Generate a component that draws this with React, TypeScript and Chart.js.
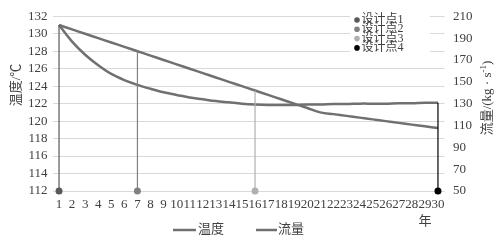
import { useEffect, useRef } from 'react';
import { Chart, registerables } from 'chart.js';

Chart.register(...registerables);

const years = ['1','2','3','4','5','6','7','8','9','10','11','12','13','14','15','16','17','18','19','20','21','22','23','24','25','26','27','28','29','30'];

// 温度 (°C), left axis
const temperature = [131, 130.5, 130, 129.5, 129, 128.5, 128, 127.5, 127, 126.5, 126, 125.5, 125, 124.5, 124, 123.5, 123, 122.5, 122, 121.5, 121, 120.8, 120.6, 120.4, 120.2, 120.0, 119.8, 119.6, 119.4, 119.2];

// 流量 (kg/s), right axis
const flow = [202, 186.8, 174.8, 165.2, 157.2, 151.6, 147.2, 143.6, 140.4, 138, 135.6, 134, 132.4, 131.2, 130, 129.2, 128.8, 128.8, 128.8, 129.2, 129.2, 129.6, 129.6, 130, 130, 130, 130.4, 130.4, 130.8, 130.8];

const designLabels = ['设计点1', '设计点2', '设计点3', '设计点4'];
const designYears = ['1', '7', '16', '30'];
const designColors = ['#595959', '#808080', '#b0b0b0', '#000000'];

const leftTicks = { min: 112, max: 132, step: 2 };
const rightTicks = { min: 50, max: 210, step: 20 };

const seriesNames = ['温度', '流量'];
const lineColor = '#707070';
const FONT = '"Liberation Serif", "Times New Roman", "Noto Sans CJK SC", serif';
const textColor = '#404040';

function flowToLeft(v: number) {
  return leftTicks.min + ((v - rightTicks.min) / (rightTicks.max - rightTicks.min)) * (leftTicks.max - leftTicks.min);
}

const customText = {
  id: 'customText',
  afterDraw(chart: any) {
    const ctx = chart.ctx as CanvasRenderingContext2D;
    // left title
    ctx.save();
    ctx.fillStyle = textColor;
    ctx.font = '13px ' + FONT;
    ctx.translate(17, 85);
    ctx.rotate(-Math.PI / 2);
    ctx.textAlign = 'center';
    ctx.textBaseline = 'middle';
    ctx.fillText('温度/℃', 0, 0);
    ctx.restore();

    // right title
    ctx.save();
    ctx.fillStyle = textColor;
    ctx.translate(488, 98);
    ctx.rotate(-Math.PI / 2);
    ctx.textBaseline = 'middle';
    ctx.textAlign = 'left';
    const main = '流量/(kg · s';
    const sup = '-1';
    const end = ')';
    ctx.font = '13px ' + FONT;
    const w1 = ctx.measureText(main).width;
    const w3 = ctx.measureText(end).width;
    ctx.font = '9px ' + FONT;
    const w2 = ctx.measureText(sup).width;
    let x = -(w1 + w2 + w3) / 2;
    ctx.font = '13px ' + FONT;
    ctx.fillText(main, x, 0);
    x += w1;
    ctx.font = '9px ' + FONT;
    ctx.fillText(sup, x, -4);
    x += w2;
    ctx.font = '13px ' + FONT;
    ctx.fillText(end, x, 0);
    ctx.restore();

    // design-point legend
    ctx.save();
    ctx.fillStyle = '#ffffff';
    ctx.fillRect(350, 13, 80, 47);
    ctx.font = '12px ' + FONT;
    ctx.textBaseline = 'middle';
    ctx.textAlign = 'left';
    designLabels.forEach((lab, i) => {
      const y = 20 + i * 9.3;
      ctx.fillStyle = designColors[i];
      ctx.beginPath();
      ctx.arc(357, y, 2.8, 0, Math.PI * 2);
      ctx.fill();
      ctx.fillStyle = textColor;
      ctx.fillText(lab, 361.5, y);
    });
    ctx.restore();

    // bottom legend
    ctx.save();
    ctx.font = '13px ' + FONT;
    ctx.textBaseline = 'middle';
    ctx.textAlign = 'left';
    const items = [
      { x1: 173, x2: 196, tx: 198 },
      { x1: 256, x2: 277, tx: 278 },
    ];
    items.forEach((it, i) => {
      ctx.strokeStyle = lineColor;
      ctx.lineWidth = 2.5;
      ctx.beginPath();
      ctx.moveTo(it.x1, 230);
      ctx.lineTo(it.x2, 230);
      ctx.stroke();
      ctx.fillStyle = textColor;
      ctx.fillText(seriesNames[i], it.tx, 230);
    });
    ctx.restore();

    // x axis title
    ctx.save();
    ctx.font = '13px ' + FONT;
    ctx.fillStyle = textColor;
    ctx.textAlign = 'center';
    ctx.textBaseline = 'middle';
    ctx.fillText('年', 425, 222);
    ctx.restore();
  },
};

export default function App() {
  const ref = useRef<HTMLCanvasElement | null>(null);

  useEffect(() => {
    if (!ref.current) return;
    const designDatasets = designYears.map((yr, i) => {
      const idx = years.indexOf(yr);
      const top = Math.max(temperature[idx], flowToLeft(flow[idx]));
      return {
        type: 'line' as const,
        label: designLabels[i],
        data: [
          { x: yr, y: leftTicks.min },
          { x: yr, y: top },
        ],
        yAxisID: 'y',
        borderColor: designColors[i],
        backgroundColor: designColors[i],
        borderWidth: 1.2,
        pointRadius: [3.5, 0],
        pointBorderWidth: 0,
        pointBackgroundColor: designColors[i],
        clip: false as any,
        order: 0,
      };
    });

    const chart = new Chart(ref.current, {
      type: 'line',
      data: {
        labels: years,
        datasets: [
          {
            label: seriesNames[0],
            data: temperature,
            yAxisID: 'y',
            borderColor: lineColor,
            borderWidth: 2.5,
            pointRadius: 0,
            tension: 0.35,
            order: 2,
          },
          {
            label: seriesNames[1],
            data: flow,
            yAxisID: 'y1',
            borderColor: lineColor,
            borderWidth: 2.5,
            pointRadius: 0,
            tension: 0.35,
            order: 2,
          },
          ...designDatasets,
        ] as any,
      },
      options: {
        responsive: false,
        animation: false,
        layout: { padding: { top: 10, left: 0, right: 0, bottom: 0 } },
        plugins: {
          legend: { display: false },
          tooltip: { enabled: false },
        },
        scales: {
          x: {
            type: 'category',
            offset: true,
            grid: { display: false, drawTicks: false },
            border: { display: false },
            ticks: {
              autoSkip: false,
              maxRotation: 0,
              minRotation: 0,
              padding: 6,
              color: textColor,
              font: { family: FONT, size: 13 },
            },
            afterFit: (s: any) => { s.height = 58; },
          },
          y: {
            position: 'left',
            min: leftTicks.min,
            max: leftTicks.max,
            ticks: {
              stepSize: leftTicks.step,
              autoSkip: false,
              padding: 5,
              color: textColor,
              font: { family: FONT, size: 13 },
            },
            grid: { color: '#d9d9d9', drawTicks: false, lineWidth: 1 },
            border: { display: false },
            afterFit: (s: any) => { s.width = 52.5; },
          },
          y1: {
            position: 'right',
            min: rightTicks.min,
            max: rightTicks.max,
            ticks: {
              stepSize: rightTicks.step,
              autoSkip: false,
              padding: 8.5,
              color: textColor,
              font: { family: FONT, size: 13 },
            },
            grid: { display: false, drawTicks: false },
            border: { display: false },
            afterFit: (s: any) => { s.width = 59.5; },
          },
        },
      },
      plugins: [customText],
    });
    return () => chart.destroy();
  }, []);

  return (
    <div style={{ position: 'fixed', left: 0, top: 0, width: 504, height: 249, background: '#fff' }}>
      <canvas ref={ref} width={504} height={249} style={{ width: 504, height: 249, display: 'block' }} />
    </div>
  );
}
